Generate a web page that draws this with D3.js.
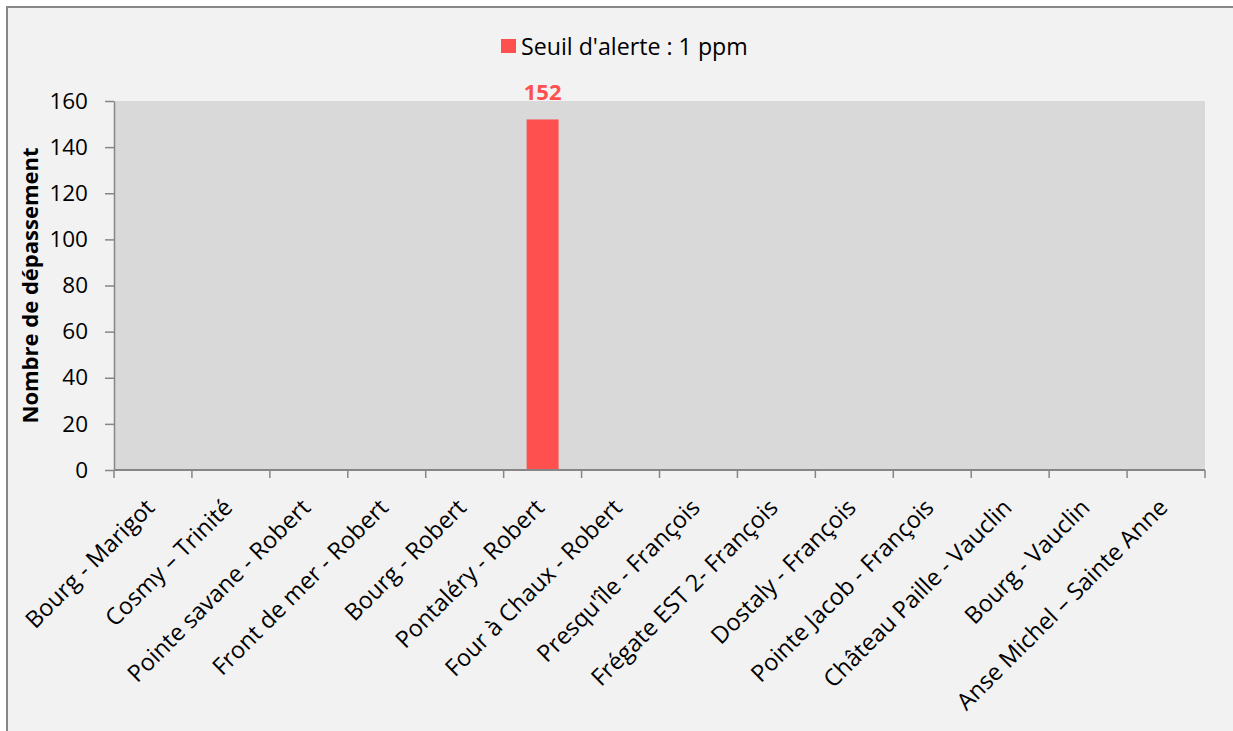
<!DOCTYPE html>
<html><head><meta charset="utf-8">
<script src="https://cdn.jsdelivr.net/npm/d3@7"></script>
<style>body{margin:0;background:#fff;overflow:hidden;}svg{display:block;font-family:"Open Sans",sans-serif;}</style>
</head><body>
<svg id="c" width="1233" height="731"></svg>
<script>
const categories = ["Bourg - Marigot","Cosmy – Trinité","Pointe savane - Robert","Front de mer - Robert","Bourg - Robert","Pontaléry - Robert","Four à Chaux - Robert","Presqu'île - François","Frégate EST 2- François","Dostaly - François","Pointe Jacob - François","Château Paille - Vauclin","Bourg - Vauclin","Anse Michel – Sainte Anne"];
const values = [0,0,0,0,0,152,0,0,0,0,0,0,0,0];
const yTicks = [0,20,40,60,80,100,120,140,160];
const seriesName = "Seuil d'alerte : 1 ppm";
const yTitle = "Nombre de dépassement";

const svg = d3.select("#c");
svg.append("rect").attr("x",7).attr("y",7).attr("width",1240).attr("height",740)
  .attr("fill","#F2F2F2").attr("stroke","#878787").attr("stroke-width",2);

const m = {l:114, r:1205, t:101, b:470};
const x = d3.scaleBand().domain(categories).range([m.l,m.r]).paddingInner(0.59).paddingOuter(0.295);
const xc = d3.scaleBand().domain(categories).range([m.l,m.r]);
const y = d3.scaleLinear().domain([0,160]).range([m.b,m.t]);

svg.append("rect").attr("x",m.l).attr("y",m.t).attr("width",m.r-m.l).attr("height",m.b-m.t).attr("fill","#D9D9D9");

svg.selectAll(".bar").data(values).join("rect").attr("class","bar")
  .attr("x",(d,i)=>x(categories[i])).attr("width",x.bandwidth())
  .attr("y",d=>y(d)).attr("height",d=>y(0)-y(d)).attr("fill","#FF5050");

svg.selectAll(".dl").data(values.map((v,i)=>({v,i})).filter(d=>d.v>0)).join("text")
  .attr("x",d=>x(categories[d.i])+x.bandwidth()/2).attr("y",d=>y(d.v)-19)
  .attr("text-anchor","middle").attr("font-weight","bold").attr("font-size",22).attr("fill","#FF5050")
  .text(d=>d.v);

// Y axis
const ya = svg.append("g").attr("transform",`translate(${m.l},0)`)
  .call(d3.axisLeft(y).tickValues(yTicks).tickSize(9).tickPadding(17).tickSizeOuter(0));
ya.select(".domain").attr("stroke","#868686").attr("stroke-width",1.5);
ya.selectAll(".tick line").attr("stroke","#868686").attr("stroke-width",1.5);
ya.selectAll("text").attr("font-size",22.5).attr("fill","#000").attr("font-family","Open Sans");

// X axis
const xa = svg.append("g").attr("transform",`translate(0,${m.b})`);
xa.append("line").attr("x1",m.l).attr("x2",m.r).attr("y1",0).attr("y2",0).attr("stroke","#868686").attr("stroke-width",2);
const edges = categories.map(c=>xc(c)).concat([m.r]);
xa.selectAll(".tk").data(edges).join("line").attr("x1",d=>d).attr("x2",d=>d).attr("y1",0).attr("y2",8)
  .attr("stroke","#868686").attr("stroke-width",1.5);
xa.selectAll(".lbl").data(categories).join("text")
  .attr("transform",d=>`translate(${xc(d)+xc.bandwidth()/2+3},${39}) rotate(-45)`)
  .attr("text-anchor","end").attr("font-size",23.5).attr("fill","#000").text(d=>d);

// Y title
svg.append("text").attr("transform",`translate(38,${(m.t+m.b)/2}) rotate(-90)`)
  .attr("text-anchor","middle").attr("font-weight","bold").attr("font-size",22).attr("fill","#000").text(yTitle);

// Legend
const lg = svg.append("g");
lg.append("rect").attr("x",501).attr("y",39).attr("width",15).attr("height",14).attr("fill","#FF5050");
lg.append("text").attr("x",521).attr("y",55).attr("font-size",23.2).attr("fill","#000").text(seriesName);
</script>
</body></html>
